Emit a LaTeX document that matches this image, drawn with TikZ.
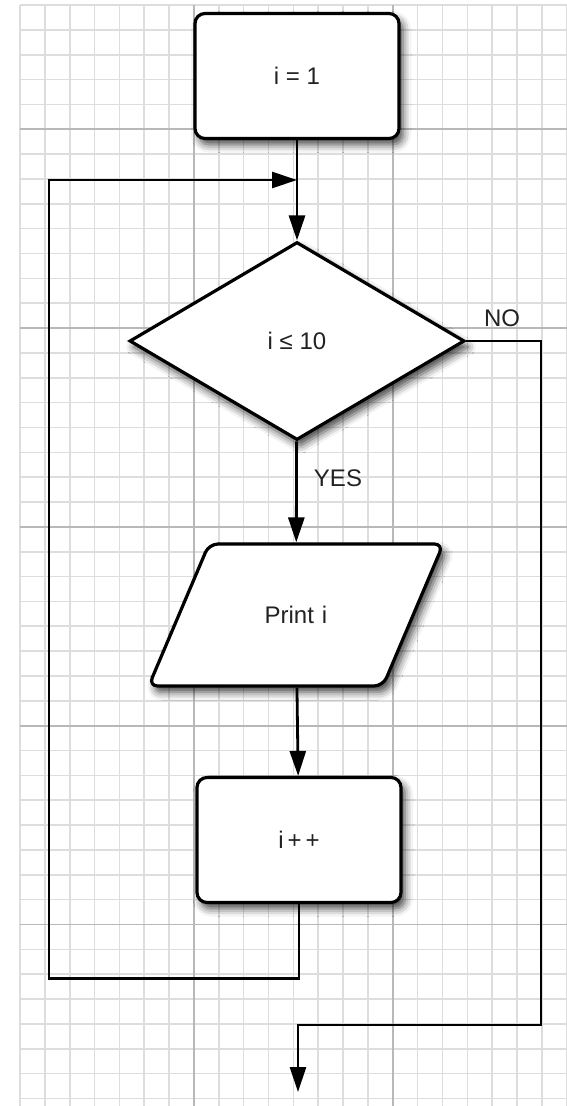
\documentclass[tikz,border=0pt]{standalone}
\usepackage{fontspec}
\setmainfont{Liberation Sans}
\usetikzlibrary{shapes.geometric, arrows.meta, positioning, calc, shadows.blur}

\definecolor{gridminor}{HTML}{DDDDDD}
\definecolor{gridmajor}{HTML}{B8B8B8}
\definecolor{inktext}{HTML}{222222}

\begin{document}
\begin{tikzpicture}[
    x=1pt, y=-1pt,
    font=\fontsize{24}{28}\selectfont,
    box/.style={draw, line width=3.2pt, fill=white, align=center, text=inktext,
        blur shadow={shadow xshift=4pt, shadow yshift=-6pt, shadow blur radius=8pt, shadow opacity=75}},
    proc/.style={box, rounded corners=10pt, minimum width=204pt, minimum height=125pt},
    decision/.style={box, diamond, inner sep=0pt, minimum width=335pt, minimum height=198pt},
    io/.style={box, trapezium, trapezium left angle=67, trapezium right angle=113,
        rounded corners=9pt, inner sep=0pt, text width=174pt, text height=79pt, text depth=63pt},
    flow/.style={line width=2.8pt, -{Triangle[length=25pt, width=16pt]}},
    lbl/.style={text=inktext},
    minorline/.style={gridminor, line width=1.6pt},
    majorline/.style={gridmajor, line width=1.8pt}
]

    \useasboundingbox (0,0) rectangle (567,1106);

    % Grid paper
    \foreach \k in {0,...,22} {
        \draw[minorline] ({20+24.85*\k}, 5) -- ({20+24.85*\k}, 1106);
    }
    \foreach \k in {0,...,44} {
        \draw[minorline] (20, {5+24.85*\k}) -- (567, {5+24.85*\k});
    }
    \foreach \k in {7,15} {
        \draw[majorline] ({20+24.85*\k}, 5) -- ({20+24.85*\k}, 1106);
    }
    \foreach \k in {5,13,21,29,37} {
        \draw[majorline] (20, {5+24.85*\k}) -- (567, {5+24.85*\k});
    }

    % Steps
    \node[proc] (init) at (297, 76) {i = 1};
    \node[decision] (test) at (297, 341) {i ≤ 10};
    \node[io] (show) at (296, 615) {Print i};
    \node[proc] (incr) at (299, 840) {i\,+\,+};

    \coordinate (merge) at (297, 180);
    \coordinate (done) at (298, 1092);

    % Labels
    \node[lbl] (yes) at (338, 478) {YES};
    \node[lbl] (no) at (502, 318) {NO};

    % Arrows
    \draw[flow] (init) -- (test);
    \draw[flow] (test) -- (show);
    \draw[flow] (show) -- (incr);
    \draw[flow] (incr.south) -- ++(0,74) -| (49,180) -- (merge);
    \draw[flow] (test.east) -| (541,1025) -| (done);

\end{tikzpicture}
\end{document}
